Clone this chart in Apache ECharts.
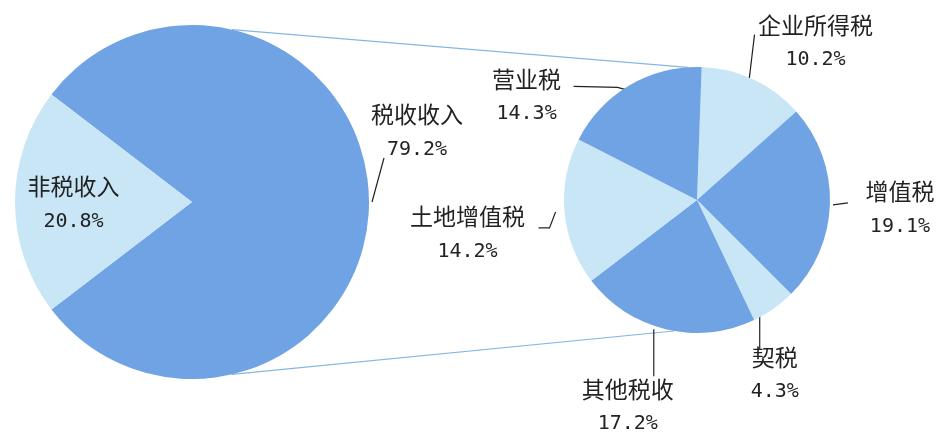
<!DOCTYPE html>
<html>
<head>
<meta charset="utf-8">
<script src="https://cdn.jsdelivr.net/npm/echarts@6/dist/echarts.min.js"></script>
<style>
  html, body { margin: 0; padding: 0; background: #fff; }
  #main { width: 946px; height: 439px; }
</style>
</head>
<body>
<div id="main"></div>
<script>
// 收入总体构成
const mainNames = ["税收收入", "非税收入"];
const mainValues = [79.2, 20.8];
// 税收收入细分（占总收入的百分比）
const taxNames = ["企业所得税", "增值税", "契税", "其他税收", "土地增值税", "营业税"];
const taxValues = [10.2, 19.1, 4.3, 17.2, 14.2, 14.3];

const darkBlue = "#6fa3e4";
const lightBlue = "#c9e6f7";

// 饼图位置
const bigCenter = [192, 202];
const bigR = 177;
const smallCenter = [697, 200];
const smallR = 133;

// 标签相对扇区边缘点的偏移: label 为文字块中心, line 为引导线各点
const spots = {
  "税收收入": { label: [48, -70], line: [[3, 0], [15, -44]] },
  "企业所得税": { label: [62, -37], line: [[-5, 5], [1, -45]] },
  "增值税": { label: [70, 5], line: [[3, 1], [18, -1]] },
  "契税": { label: [1, 66], line: [[-14, 0], [-14, 41]] },
  "其他税收": { label: [-38, 77], line: [[-12, 0], [-12, 47]] },
  "土地增值税": { label: [-97, 22], line: [[-9, 0], [-15, 16], [-26, 16]] },
  "营业税": { label: [-103, 11], line: [[-1, 5], [-12, 2], [-56, 1]] },
};

const richText = {
  n: { fontFamily: "Noto Sans CJK SC", fontSize: 23, color: "#222", lineHeight: 35, align: "center" },
  p: { fontFamily: "DejaVu Sans Mono", fontSize: 20, color: "#222", lineHeight: 35, align: "center" },
};

function layoutFor(names) {
  return function (params) {
    const name = names[params.dataIndex];
    const s = spots[name];
    if (!s || !params.labelLinePoints) {
      // 非税收入：放在扇区内部
      return { dx: -27, dy: 2 };
    }
    const e = params.labelLinePoints[0];
    return {
      x: e[0] + s.label[0],
      y: e[1] + s.label[1],
      align: "center",
      verticalAlign: "middle",
      labelLinePoints: s.line.map((d) => [e[0] + d[0], e[1] + d[1]]),
    };
  };
}

// 两饼之间的连接线
function polar(c, r, deg) {
  const a = (deg * Math.PI) / 180;
  return [c[0] + r * Math.cos(a), c[1] - r * Math.sin(a)];
}
const topA = polar(bigCenter, bigR, 77);
const topB = polar(smallCenter, smallR, 94);
const botA = polar(bigCenter, bigR, -77);
const botB = polar(smallCenter, smallR, -100);

const labelOpt = {
  show: true,
  position: "outside",
  overflow: "none",
  width: 200,
  formatter: (p) => "{n|" + p.name + "}\n{p|" + p.value.toFixed(1) + "%}",
  rich: richText,
};

const chart = echarts.init(document.getElementById("main"));
chart.setOption({
  backgroundColor: "#fff",
  animation: false,
  graphic: [
    {
      type: "line",
      z: 0,
      shape: { x1: topA[0], y1: topA[1], x2: topB[0], y2: topB[1] },
      style: { stroke: "#86b6e4", lineWidth: 1.2 },
    },
    {
      type: "line",
      z: 0,
      shape: { x1: botA[0], y1: botA[1], x2: botB[0], y2: botB[1] },
      style: { stroke: "#86b6e4", lineWidth: 1.2 },
    },
  ],
  series: [
    {
      type: "pie",
      center: bigCenter,
      radius: bigR,
      startAngle: 180 - (mainValues[1] / 100) * 180,
      z: 5,
      emphasis: { disabled: true },
      label: labelOpt,
      labelLine: { show: true, lineStyle: { color: "#222", width: 1.2 } },
      labelLayout: layoutFor(mainNames),
      data: mainNames.map((n, i) => ({
        name: n,
        value: mainValues[i],
        itemStyle: { color: i === 0 ? darkBlue : lightBlue },
        label: i === 1 ? { position: "inside" } : {},
        labelLine: i === 1 ? { show: false } : {},
      })),
    },
    {
      type: "pie",
      center: smallCenter,
      radius: smallR,
      startAngle: 88,
      z: 5,
      emphasis: { disabled: true },
      label: labelOpt,
      labelLine: { show: true, lineStyle: { color: "#222", width: 1.2 } },
      labelLayout: layoutFor(taxNames),
      data: taxNames.map((n, i) => ({
        name: n,
        value: taxValues[i],
        itemStyle: { color: i % 2 === 0 ? lightBlue : darkBlue },
      })),
    },
  ],
});
</script>
</body>
</html>
